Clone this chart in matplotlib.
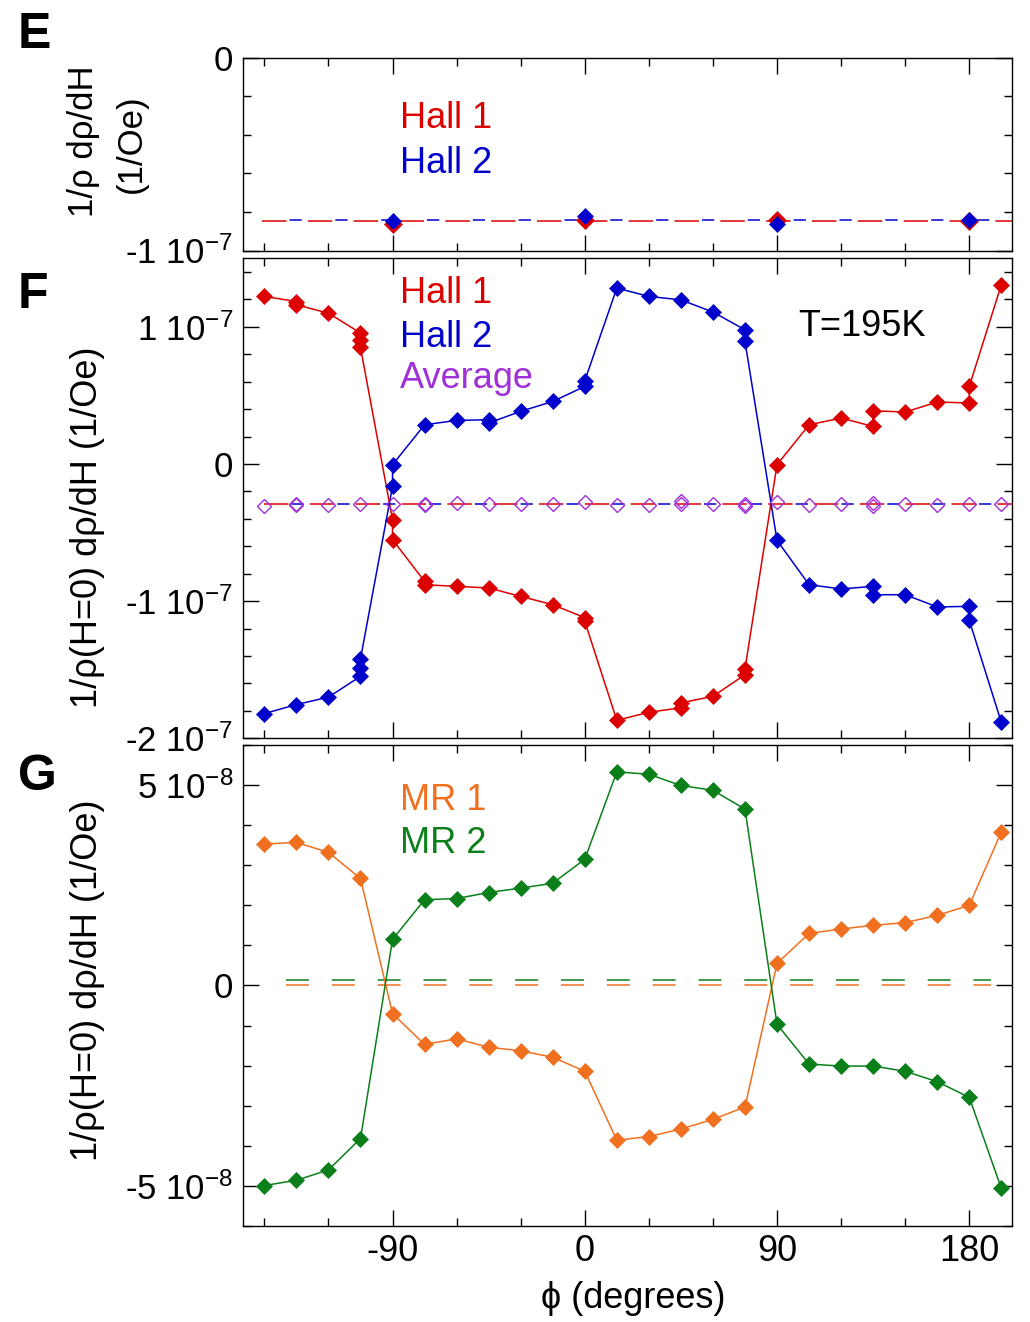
import matplotlib
matplotlib.use("Agg")
import numpy as np
import matplotlib.pyplot as plt
from matplotlib.ticker import FixedLocator, MultipleLocator

plt.rcParams["font.family"] = ["Liberation Sans", "DejaVu Sans"]
plt.rcParams["mathtext.fontset"] = "custom"
plt.rcParams["mathtext.rm"] = "Liberation Sans"
plt.rcParams["mathtext.default"] = "regular"

RED = "#dd0000"
BLUE = "#0000cc"
PURPLE = "#a030d8"
ORANGE = "#f07020"
GREEN = "#0a7f1a"

# ---- panel E (units of 1e-7 1/Oe) ----
phi_e = [-90, 0, 90, 180]
hall1_e = [-0.861, -0.844, -0.841, -0.849]
hall2_e = [-0.849, -0.823, -0.861, -0.844]
fit1_e = -0.849
fit2_e = -0.842

# ---- panel F (units of 1e-7 1/Oe), repeated angles = repeat sweeps ----
phi_h1 = [-150, -135, -135, -120, -105, -105, -105, -90, -90, -75, -75, -60,
          -45, -30, -15, 0, 0, 15, 30, 45, 45, 60, 75, 75, 90, 105, 120,
          135, 135, 150, 165, 180, 180, 195]
hall1_f = [1.222, 1.185, 1.161, 1.10, 0.955, 0.906, 0.85, -0.406, -0.551,
           -0.856, -0.88, -0.892, -0.904, -0.965, -1.026, -1.12, -1.147,
           -1.869, -1.81, -1.778, -1.742, -1.694, -1.536, -1.494, -0.005,
           0.286, 0.335, 0.274, 0.388, 0.379, 0.452, 0.445, 0.566, 1.307]
phi_h2 = [-150, -135, -120, -105, -105, -105, -90, -90, -75, -60, -45, -45,
          -30, -15, 0, 0, 15, 30, 45, 60, 75, 75, 90, 105, 120, 135, 135,
          150, 165, 180, 180, 195]
hall2_f = [-1.82, -1.754, -1.70, -1.548, -1.487, -1.421, -0.163, -0.005,
           0.286, 0.318, 0.323, 0.299, 0.384, 0.456, 0.566, 0.607, 1.283,
           1.222, 1.197, 1.108, 0.979, 0.894, -0.557, -0.88, -0.911, -0.892,
           -0.953, -0.953, -1.042, -1.038, -1.14, -1.883]
phi_avg = [-150, -135, -135, -120, -105, -90, -75, -75, -60, -45, -30, -15,
           0, 15, 30, 45, 45, 60, 75, 75, 90, 105, 120, 135, 135, 150, 165,
           180, 195]
avg_f = [-0.303, -0.289, -0.296, -0.296, -0.289, -0.289, -0.289, -0.296,
         -0.284, -0.289, -0.289, -0.289, -0.277, -0.296, -0.296, -0.272,
         -0.289, -0.289, -0.289, -0.303, -0.277, -0.296, -0.289, -0.284,
         -0.308, -0.289, -0.296, -0.289, -0.289]
fit_f = -0.289

# ---- panel G (units of 1e-8 1/Oe) ----
phi_mr = [-150, -135, -120, -105, -90, -75, -60, -45, -30, -15, 0, 15,
          30, 45, 60, 75, 90, 105, 120, 135, 150, 165, 180, 195]
mr1 = [3.53, 3.57, 3.32, 2.67, -0.70, -1.47, -1.33, -1.54, -1.63, -1.79,
       -2.14, -3.86, -3.77, -3.58, -3.34, -3.03, 0.55, 1.30, 1.41, 1.50,
       1.57, 1.75, 2.00, 3.83]
mr2 = [-4.99, -4.86, -4.60, -3.82, 1.15, 2.14, 2.17, 2.32, 2.43, 2.55,
       3.15, 5.33, 5.27, 4.99, 4.87, 4.40, -0.97, -1.96, -2.01, -2.01,
       -2.14, -2.40, -2.79, -5.06]
fit_mr1 = 0.0
fit_mr2 = 0.13

x_ticks = [-90, 0, 90, 180]
x_ticklabels = ["-90", "0", "90", "180"]

W, H = 1030, 1322
FS = 26


def box(l, t, r, b):
    return [l / W, 1 - b / H, (r - l) / W, (b - t) / H]


def ftext(x, y, s, **kw):
    fig.text(x / W, 1 - y / H, s, **kw)


def style(ax, ylim, yticks, ylabels, yminor, xlabels=False):
    ax.set_xlim(-160, 200)
    ax.set_ylim(*ylim)
    ax.xaxis.set_major_locator(FixedLocator(x_ticks))
    ax.set_xticklabels(x_ticklabels)
    ax.xaxis.set_minor_locator(MultipleLocator(30))
    ax.set_yticks(yticks)
    ax.set_yticklabels(ylabels)
    ax.yaxis.set_minor_locator(MultipleLocator(yminor))
    ax.tick_params(which="both", direction="in", top=True, right=True,
                   width=1.0, pad=7)
    ax.tick_params(axis="y", labelsize=25)
    ax.tick_params(axis="x", labelsize=FS, labelbottom=xlabels, pad=6)
    ax.tick_params(which="major", length=11.5)
    ax.tick_params(which="minor", length=5.8)
    for sp in ax.spines.values():
        sp.set_linewidth(1.0)


fig = plt.figure(figsize=(10.3, 13.22), dpi=100)

# ---------- E ----------
axE = fig.add_axes(box(243, 58, 1012, 250.5))
axE.plot([-151, 200], [fit1_e * 1e-7] * 2, color=RED, lw=1.1,
         dashes=(16, 14))
axE.plot([-151, 200], [fit2_e * 1e-7] * 2, color=BLUE, lw=1.1,
         linestyle=(12, (8, 22)))
axE.plot(phi_e, np.array(hall1_e) * 1e-7, "D", color=RED, ms=9, mew=0.5)
axE.plot(phi_e, np.array(hall2_e) * 1e-7, "D", color=BLUE, ms=8.5, mew=0.5)
style(axE, (-1e-7, 0), [-1e-7, 0], ["-1 10$^{-7}$", "0"], 0.2e-7)

# ---------- F ----------
axF = fig.add_axes(box(243, 258.3, 1012, 738.3))
axF.plot([-150, 200], [fit_f * 1e-7] * 2, color=RED, lw=1.1,
         dashes=(16, 14))
axF.plot([-150, 200], [fit_f * 1e-7] * 2, color=BLUE, lw=1.1,
         linestyle=(12, (8, 22)))
axF.plot(phi_h1, np.array(hall1_f) * 1e-7, "-D", color=RED, lw=1.1,
         ms=8, mew=0.5)
axF.plot(phi_h2, np.array(hall2_f) * 1e-7, "-D", color=BLUE, lw=1.1,
         ms=8, mew=0.5)
axF.plot(phi_avg, np.array(avg_f) * 1e-7, "D", color=PURPLE, ms=7.5,
         mfc="none", mew=1.0)
style(axF, (-2e-7, 1.5e-7), [-2e-7, -1e-7, 0, 1e-7],
      ["-2 10$^{-7}$", "-1 10$^{-7}$", "0", "1 10$^{-7}$"], 0.2e-7)

# ---------- G ----------
axG = fig.add_axes(box(243, 745, 1012, 1226))
axG.plot([-140, 190], [fit_mr2 * 1e-8] * 2, color=GREEN, lw=1.1,
         dashes=(15, 15))
axG.plot([-140, 190], [fit_mr1 * 1e-8] * 2, color=ORANGE, lw=1.1,
         dashes=(15, 15))
axG.plot(phi_mr, np.array(mr1) * 1e-8, "-D", color=ORANGE, lw=1.1,
         ms=8, mew=0.5)
axG.plot(phi_mr, np.array(mr2) * 1e-8, "-D", color=GREEN, lw=1.1,
         ms=8, mew=0.5)
style(axG, (-6e-8, 6e-8), [-5e-8, 0, 5e-8],
      ["-5 10$^{-8}$", "0", "5 10$^{-8}$"], 1e-8, xlabels=True)

# ---------- labels ----------
for s, y in [("E", 48), ("F", 308), ("G", 790)]:
    ftext(18, y, s, fontsize=36, fontweight="bold", va="baseline")

ftext(400, 128, "Hall 1", color=RED, fontsize=FS, va="baseline")
ftext(400, 173, "Hall 2", color=BLUE, fontsize=FS, va="baseline")
ftext(400, 303, "Hall 1", color=RED, fontsize=FS, va="baseline")
ftext(400, 347, "Hall 2", color=BLUE, fontsize=FS, va="baseline")
ftext(400, 388, "Average", color=PURPLE, fontsize=FS, va="baseline")
ftext(798, 336, "T=195K", fontsize=FS, va="baseline")
ftext(400, 810, "MR 1", color=ORANGE, fontsize=FS, va="baseline")
ftext(400, 853, "MR 2", color=GREEN, fontsize=FS, va="baseline")

ftext(84, 141, "1/ρ dρ/dH", fontsize=25, rotation=90, ha="center",
      va="center")
ftext(131, 144, "(1/Oe)", fontsize=25, rotation=90, ha="center",
      va="center")
ftext(88, 527, "1/ρ(H=0) dρ/dH (1/Oe)", fontsize=FS, rotation=90,
      ha="center", va="center")
ftext(88, 980, "1/ρ(H=0) dρ/dH (1/Oe)", fontsize=FS, rotation=90,
      ha="center", va="center")
ftext(633, 1298, "\u03d5 (degrees)", fontsize=FS, ha="center", va="center")

fig.savefig("out.png", dpi=100)
